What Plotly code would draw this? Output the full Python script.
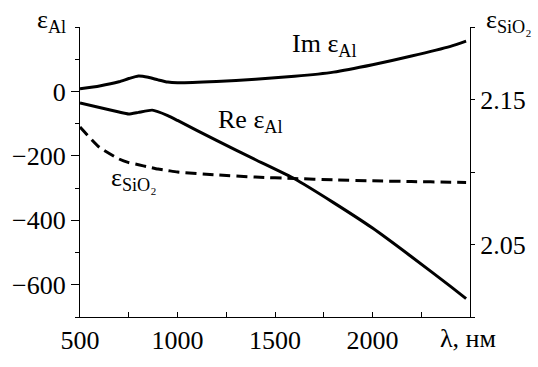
import plotly.graph_objects as go

# Im eps_Al (left axis)
wl_im = [500, 600, 700, 750, 800, 850, 900, 950, 1000, 1200, 1400, 1600, 1800, 2000, 2200, 2400, 2480]
im_al = [8, 17, 30, 40, 48, 44, 36, 29, 27, 31, 38, 47, 60, 83, 110, 140, 156]
# Re eps_Al (left axis)
wl_re = [500, 600, 700, 750, 800, 870, 950, 1000, 1200, 1400, 1600, 1800, 2000, 2200, 2400, 2480]
re_al = [-36, -50, -64, -70, -65, -58, -75, -90, -152, -212, -271, -345, -424, -513, -605, -643]
# eps_SiO2 (right axis)
wl_sio2 = [500, 600, 700, 750, 800, 850, 900, 950, 1000, 1200, 1400, 1600, 1800, 2000, 2200, 2400, 2480]
eps_sio2 = [2.131, 2.117, 2.109, 2.1065, 2.105, 2.1035, 2.102, 2.101, 2.100, 2.098, 2.0965,
            2.0955, 2.0946, 2.0939, 2.0934, 2.0930, 2.0928]

x_ticks = [500, 1000, 1500, 2000]
x_minor = [750, 1250, 1750, 2250, 2500]
y_ticks = [-600, -400, -200, 0]
y_ticktext = ["\u2212600", "\u2212400", "\u2212200", "0"]
y_minor = [-700, -500, -300, -100, 100, 200]
y2_ticks = [2.05, 2.15]
y2_ticktext = ["2.05", "2.15"]
y2_minor = [2.0, 2.10, 2.20]

FONT = "'Liberation Serif', 'Times New Roman', Times, serif"
fig = go.Figure()
line = dict(color="black", width=3, shape="spline", smoothing=0.5)
fig.add_trace(go.Scatter(x=wl_im, y=im_al, mode="lines", line=line, showlegend=False))
fig.add_trace(go.Scatter(x=wl_re, y=re_al, mode="lines",
                         line=dict(color="black", width=3, shape="spline", smoothing=0.4), showlegend=False))
fig.add_trace(go.Scatter(x=wl_sio2, y=eps_sio2, mode="lines", yaxis="y2",
                         line=dict(color="black", width=3, dash="11px,6px", shape="spline", smoothing=0.5),
                         showlegend=False))

fig.update_layout(
    width=538, height=367,
    margin=dict(l=78, r=61, t=27, b=39),
    paper_bgcolor="white", plot_bgcolor="white",
    font=dict(family=FONT, size=26, color="black"),
    xaxis=dict(range=[500, 2500], tickmode="array", tickvals=x_ticks,
               ticks="inside", ticklen=5, tickwidth=1, tickcolor="black",
               minor=dict(tickmode="array", tickvals=x_minor, ticks="inside", ticklen=5, tickcolor="black"),
               showline=True, linecolor="black", linewidth=1.2, showgrid=False, zeroline=False,
               tickfont=dict(family=FONT, size=26, color="black")),
    yaxis=dict(range=[-700, 200], tickmode="array", tickvals=y_ticks, ticktext=y_ticktext,
               ticks="outside", ticklen=8, tickwidth=1, tickcolor="black",
               minor=dict(tickmode="array", tickvals=y_minor, ticks="outside", ticklen=4, tickcolor="black"),
               showline=True, linecolor="black", linewidth=1.2, showgrid=False, zeroline=False,
               tickfont=dict(family=FONT, size=26, color="black")),
    yaxis2=dict(range=[2.0, 2.2], overlaying="y", side="right", tickmode="array",
                tickvals=y2_ticks, ticktext=y2_ticktext,
                ticks="outside", ticklen=4, tickwidth=1, tickcolor="black",
                minor=dict(tickmode="array", tickvals=y2_minor, ticks="outside", ticklen=4, tickcolor="black"),
                showline=True, linecolor="black", linewidth=1.2, showgrid=False, zeroline=False,
                tickfont=dict(family=FONT, size=26, color="black")),
)

ann_font = dict(family=FONT, size=26, color="black")
fig.add_annotation(text="\u03b5<sub>Al</sub>", xref="paper", yref="paper", x=-0.073, y=1.02,
                   xanchor="center", yanchor="middle", showarrow=False, font=ann_font)
fig.add_annotation(text="\u03b5<sub>SiO\u2082</sub>", xref="paper", yref="paper", x=1.1, y=1.02,
                   xanchor="center", yanchor="middle", showarrow=False, font=ann_font)
fig.add_annotation(text="Im \u03b5<sub>Al</sub>", xref="x", yref="y", x=1753, y=145,
                   xanchor="center", yanchor="middle", showarrow=False, font=ann_font)
fig.add_annotation(text="Re \u03b5<sub>Al</sub>", xref="x", yref="y", x=1372, y=-93,
                   xanchor="center", yanchor="middle", showarrow=False, font=ann_font)
fig.add_annotation(text="\u03b5<sub>SiO\u2082</sub>", xref="x", yref="y", x=776, y=-272,
                   xanchor="center", yanchor="middle", showarrow=False, font=ann_font)
fig.add_annotation(text="\u03bb, \u043d\u043c", xref="paper", yref="paper", x=0.995, y=-0.074,
                   xanchor="center", yanchor="middle", showarrow=False, font=ann_font)

fig.write_html("out.html")
